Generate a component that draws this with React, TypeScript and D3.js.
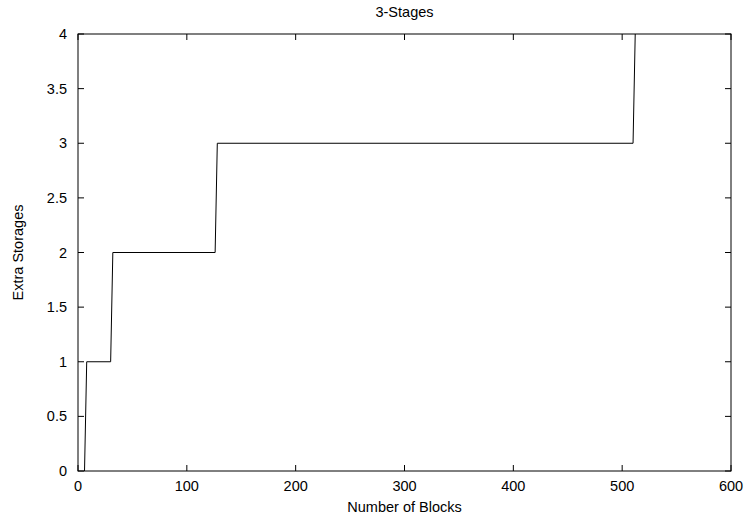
import React, { useEffect, useRef } from "react";
import * as d3 from "d3";

// number of blocks (x) vs extra storages (y)
const blocks = [6, 8, 30, 32, 126, 128, 510, 512];
const storages = [0, 1, 1, 2, 2, 3, 3, 4];
const xTicks = [0, 100, 200, 300, 400, 500, 600];
const yTicks = [0, 0.5, 1, 1.5, 2, 2.5, 3, 3.5, 4];

const W = 747,
  H = 519;
const margin = { top: 34, right: 16, bottom: 48, left: 78 };
const font = "'Liberation Sans', Arial, Helvetica, sans-serif";
const fs = "14.5px";

const App = () => {
  const ref = useRef<SVGSVGElement>(null);

  useEffect(() => {
    const svg = d3.select(ref.current);
    svg.selectAll("*").remove();

    const x = d3.scaleLinear().domain([0, 600]).range([margin.left, W - margin.right]);
    const y = d3.scaleLinear().domain([0, 4]).range([H - margin.bottom, margin.top]);
    const tick = 6;

    const g = svg.append("g");

    // frame
    g.append("rect")
      .attr("x", x(0))
      .attr("y", y(4))
      .attr("width", x(600) - x(0))
      .attr("height", y(0) - y(4))
      .attr("fill", "none")
      .attr("stroke", "#000")
      .attr("stroke-width", 1);

    // ticks pointing inward, mirrored on opposite side
    xTicks.forEach((t) => {
      g.append("line").attr("x1", x(t)).attr("x2", x(t)).attr("y1", y(0)).attr("y2", y(0) - tick).attr("stroke", "#000");
      g.append("line").attr("x1", x(t)).attr("x2", x(t)).attr("y1", y(4)).attr("y2", y(4) + tick).attr("stroke", "#000");
      g.append("text")
        .attr("x", x(t))
        .attr("y", y(0) + 20)
        .attr("text-anchor", "middle")
        .style("font-family", font)
        .style("font-size", fs)
        .text(t);
    });

    yTicks.forEach((t) => {
      g.append("line").attr("x1", x(0)).attr("x2", x(0) + tick).attr("y1", y(t)).attr("y2", y(t)).attr("stroke", "#000");
      g.append("line").attr("x1", x(600)).attr("x2", x(600) - tick).attr("y1", y(t)).attr("y2", y(t)).attr("stroke", "#000");
      g.append("text")
        .attr("x", x(0) - 11)
        .attr("y", y(t))
        .attr("dy", "0.35em")
        .attr("text-anchor", "end")
        .style("font-family", font)
        .style("font-size", fs)
        .text(t);
    });

    const line = d3
      .line<number>()
      .x((d, i) => x(blocks[i]))
      .y((d) => y(d));

    g.append("path")
      .datum(storages)
      .attr("d", line)
      .attr("fill", "none")
      .attr("stroke", "#000")
      .attr("stroke-width", 1);

    // titles
    g.append("text")
      .attr("x", (x(0) + x(600)) / 2)
      .attr("y", 17)
      .attr("text-anchor", "middle")
      .style("font-family", font)
      .style("font-size", fs)
      .text("3-Stages");

    g.append("text")
      .attr("x", (x(0) + x(600)) / 2)
      .attr("y", 512)
      .attr("text-anchor", "middle")
      .style("font-family", font)
      .style("font-size", fs)
      .text("Number of Blocks");

    g.append("text")
      .attr("transform", `translate(23, ${(y(0) + y(4)) / 2}) rotate(-90)`)
      .attr("text-anchor", "middle")
      .style("font-family", font)
      .style("font-size", fs)
      .text("Extra Storages");
  }, []);

  return (
    <div style={{ position: "absolute", left: 0, top: 0 }}>
      <svg ref={ref} width={W} height={H} style={{ display: "block", background: "#fff" }} />
    </div>
  );
};

export default App;
